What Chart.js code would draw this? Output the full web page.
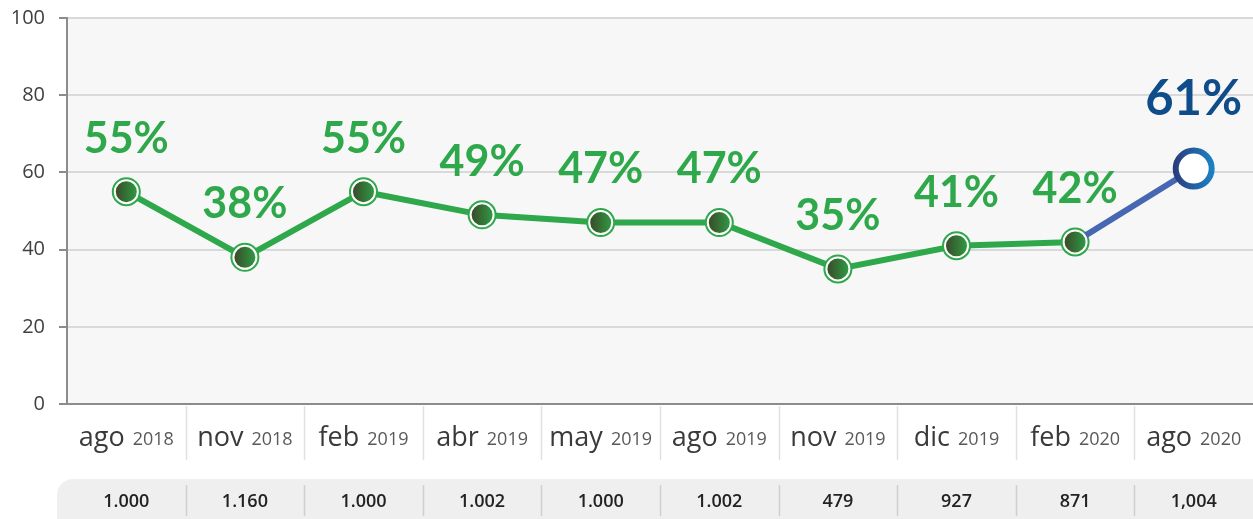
<!DOCTYPE html>
<html>
<head>
<meta charset="utf-8">
<script src="https://cdn.jsdelivr.net/npm/chart.js@4"></script>
<style>
    html, body { margin: 0; padding: 0; background: #fff; }
    #wrap { width: 1253px; height: 519px; }
</style>
</head>
<body>
<div id="wrap"><canvas id="trendChart" width="1253" height="519"></canvas></div>
<script>
const months = ['ago', 'nov', 'feb', 'abr', 'may', 'ago', 'nov', 'dic', 'feb', 'ago'];
const years = ['2018', '2018', '2019', '2019', '2019', '2019', '2019', '2019', '2020', '2020'];
const percentages = [55, 38, 55, 49, 47, 47, 35, 41, 42, 61];
const sampleSizes = ['1.000', '1.160', '1.000', '1.002', '1.000', '1.002', '479', '927', '871', '1,004'];
const yTicks = [0, 20, 40, 60, 80, 100];

const green = '#2ea84a';
const blue = '#4767b3';
const lastIndex = percentages.length - 1;

document.addEventListener("DOMContentLoaded", function() {
    const canvas = document.getElementById("trendChart");

    const plotBackground = {
        id: 'plotBackground',
        beforeDraw(chart) {
            const { ctx, chartArea } = chart;
            ctx.save();
            ctx.fillStyle = '#f7f7f7';
            ctx.fillRect(chartArea.left, chartArea.top, chartArea.right - chartArea.left, chartArea.bottom - chartArea.top);
            ctx.restore();
        }
    };

    // month + year labels, separators and the sample size strip
    const bottomLabels = {
        id: 'bottomLabels',
        afterDraw(chart) {
            const { ctx, chartArea } = chart;
            const x = chart.scales.x;
            const step = x.getPixelForValue(1) - x.getPixelForValue(0);
            ctx.save();

            // strip
            const stripTop = 479;
            const stripLeft = 57;
            const r = 16;
            ctx.fillStyle = '#efefef';
            ctx.beginPath();
            ctx.moveTo(stripLeft + r, stripTop);
            ctx.lineTo(chart.width + 20, stripTop);
            ctx.lineTo(chart.width + 20, chart.height + 20);
            ctx.lineTo(stripLeft, chart.height + 20);
            ctx.lineTo(stripLeft, stripTop + r);
            ctx.arcTo(stripLeft, stripTop, stripLeft + r, stripTop, r);
            ctx.fill();

            months.forEach((m, i) => {
                const cx = x.getPixelForValue(i);
                ctx.textBaseline = 'alphabetic';
                ctx.font = '27px "Open Sans"';
                const w1 = ctx.measureText(m).width;
                ctx.font = '18px "Open Sans"';
                const w2 = ctx.measureText(years[i]).width;
                const gap = 8;
                const start = cx - (w1 + gap + w2) / 2;
                ctx.textAlign = 'left';
                ctx.fillStyle = '#3a3a3a';
                ctx.font = '27px "Open Sans"';
                ctx.fillText(m, start, 446);
                ctx.fillStyle = '#595959';
                ctx.font = '18px "Open Sans"';
                ctx.fillText(years[i], start + w1 + gap, 445);

                ctx.fillStyle = '#222';
                ctx.font = '600 18px "Open Sans"';
                ctx.textAlign = 'center';
                ctx.textBaseline = 'middle';
                ctx.fillText(sampleSizes[i], cx, 502);

                if (i > 0) {
                    const sx = Math.round(cx - step / 2) + 0.5;
                    ctx.strokeStyle = '#e0e0e0';
                    ctx.lineWidth = 1.5;
                    ctx.beginPath();
                    ctx.moveTo(sx, chartArea.bottom + 2);
                    ctx.lineTo(sx, 460);
                    ctx.stroke();
                    ctx.strokeStyle = '#cfcfcf';
                    ctx.beginPath();
                    ctx.moveTo(sx, 485);
                    ctx.lineTo(sx, 516);
                    ctx.stroke();
                }
            });
            ctx.restore();
        }
    };

    const percentLabels = {
        id: 'percentLabels',
        afterDatasetsDraw(chart) {
            const { ctx } = chart;
            const meta = chart.getDatasetMeta(1);
            ctx.save();
            ctx.textAlign = 'center';
            ctx.textBaseline = 'middle';
            meta.data.forEach((pt, i) => {
                if (i === lastIndex) {
                    ctx.fillStyle = '#0f4c8a';
                    ctx.font = 'bold 49px Lato';
                    ctx.fillText(percentages[i] + '%', pt.x, pt.y - 69);
                } else {
                    ctx.fillStyle = green;
                    ctx.font = 'bold 43px Lato';
                    ctx.fillText(percentages[i] + '%', pt.x, pt.y - 53);
                }
            });
            ctx.restore();
        }
    };

    function pointFill(ctx) {
        if (ctx.type !== 'data') return green;
        if (ctx.dataIndex === lastIndex) return '#ffffff';
        const px = ctx.chart.scales.x ? ctx.chart.scales.x.getPixelForValue(ctx.dataIndex) : NaN;
        if (!isFinite(px)) return green;
        const g = ctx.chart.ctx.createLinearGradient(px - 11, 0, px + 11, 0);
        g.addColorStop(0, '#3a4a28');
        g.addColorStop(1, '#2f9a44');
        return g;
    }

    function pointBorder(ctx) {
        if (ctx.type !== 'data') return '#fff';
        if (ctx.dataIndex !== lastIndex) return '#ffffff';
        const px = ctx.chart.scales.x ? ctx.chart.scales.x.getPixelForValue(ctx.dataIndex) : NaN;
        if (!isFinite(px)) return '#2b5fa8';
        const g = ctx.chart.ctx.createLinearGradient(px - 21, 0, px + 21, 0);
        g.addColorStop(0, '#2b3a78');
        g.addColorStop(1, '#1b84c8');
        return g;
    }

    new Chart(canvas.getContext("2d"), {
        type: 'line',
        data: {
            labels: months.map((m, i) => m + ' ' + years[i]),
            datasets: [{
                // outer green ring behind markers
                data: percentages,
                showLine: false,
                pointRadius: percentages.map((v, i) => i === lastIndex ? 0 : 14.5),
                pointBackgroundColor: green,
                pointBorderWidth: 0,
                order: 2
            }, {
                data: percentages,
                borderColor: green,
                borderWidth: 6,
                segment: {
                    borderColor: c => c.p1DataIndex === lastIndex ? blue : green
                },
                pointRadius: percentages.map((v, i) => i === lastIndex ? 18 : 11.5),
                pointBorderWidth: percentages.map((v, i) => i === lastIndex ? 6 : 2),
                pointBackgroundColor: pointFill,
                pointBorderColor: pointBorder,
                order: 1
            }]
        },
        options: {
            responsive: false,
            animation: false,
            layout: { autoPadding: false, padding: { top: 18, bottom: 115, left: 0, right: 0 } },
            plugins: {
                legend: { display: false },
                tooltip: { enabled: false }
            },
            scales: {
                x: {
                    offset: true,
                    grid: { display: false },
                    ticks: { display: false },
                    border: { display: true, color: '#8c8c8c', width: 2 },
                    afterFit(scale) { scale.height = 0; }
                },
                y: {
                    min: 0,
                    max: 100,
                    afterBuildTicks(scale) { scale.ticks = yTicks.map(v => ({ value: v })); },
                    grid: { color: '#d9d9d9', lineWidth: 2, tickLength: 8, tickColor: '#8c8c8c' },
                    border: { display: true, color: '#8c8c8c', width: 2 },
                    ticks: {
                        color: '#404040',
                        font: { family: '"Open Sans"', size: 20 },
                        padding: 14
                    },
                    afterFit(scale) {
                        scale.width = 67;
                        scale.paddingTop = 0;
                        scale.paddingBottom = 0;
                    }
                }
            }
        },
        plugins: [plotBackground, bottomLabels, percentLabels]
    });
});
</script>
</body>
</html>
